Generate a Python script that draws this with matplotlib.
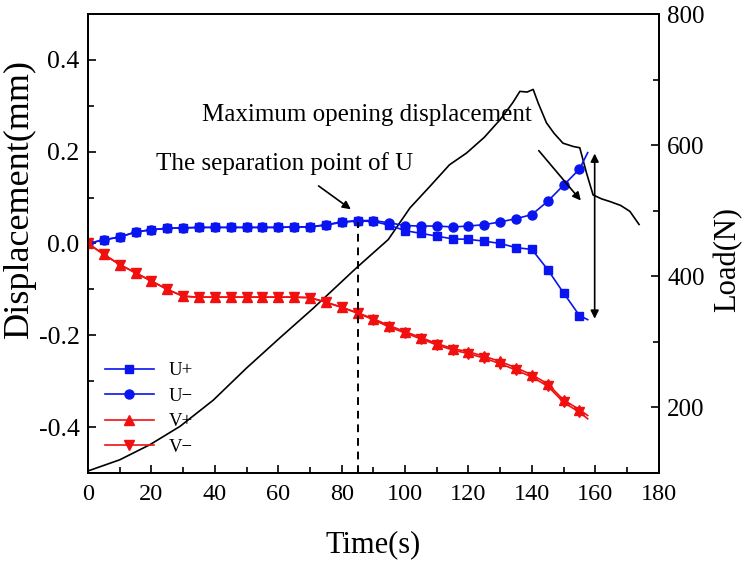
import matplotlib
matplotlib.use("Agg")
import matplotlib.pyplot as plt

plt.rcParams['font.family'] = ['Liberation Serif', 'DejaVu Serif']
plt.rcParams['mathtext.fontset'] = 'stix'

# time (s) for displacement samples
t = [0, 5, 10, 15, 20, 25, 30, 35, 40, 45, 50, 55, 60, 65, 70, 75, 80, 85, 90,
     95, 100, 105, 110, 115, 120, 125, 130, 135, 140, 145, 150, 155]
u_plus = [0.0, 0.008, 0.014, 0.025, 0.030, 0.033, 0.034, 0.035, 0.035, 0.035, 0.035,
          0.035, 0.035, 0.036, 0.036, 0.040, 0.046, 0.049, 0.048,
          0.040, 0.028, 0.022, 0.016, 0.010, 0.009, 0.005, 0.0, -0.009, -0.013,
          -0.057, -0.108, -0.157]
u_minus = [0.0, 0.008, 0.014, 0.025, 0.030, 0.033, 0.034, 0.035, 0.035, 0.035, 0.035,
           0.035, 0.035, 0.036, 0.036, 0.041, 0.047, 0.050, 0.050,
           0.045, 0.039, 0.038, 0.038, 0.036, 0.038, 0.041, 0.047, 0.054, 0.063,
           0.092, 0.127, 0.162]
v_plus = [0.0, -0.024, -0.046, -0.064, -0.082, -0.100, -0.115, -0.117, -0.117, -0.117,
          -0.117, -0.117, -0.117, -0.117, -0.118, -0.128, -0.139, -0.151, -0.164,
          -0.179, -0.192, -0.205, -0.218, -0.229, -0.236, -0.246, -0.257, -0.271,
          -0.286, -0.306, -0.341, -0.362]
v_minus = [0.0, -0.024, -0.046, -0.064, -0.082, -0.100, -0.115, -0.117, -0.117, -0.117,
           -0.117, -0.117, -0.117, -0.117, -0.118, -0.128, -0.139, -0.152, -0.166,
           -0.182, -0.195, -0.208, -0.221, -0.232, -0.240, -0.250, -0.262, -0.276,
           -0.291, -0.311, -0.346, -0.368]
# line tails after last marker
t_end = 157.6
u_plus_end = -0.166
u_minus_end = 0.198
v_plus_end = -0.375
v_minus_end = -0.382

# load curve
t_load = [0, 10, 19.5, 29, 39.5, 50, 60.5, 71, 84.7, 94.7, 101.5, 108, 114, 119.4,
          125, 130, 134, 136.2, 138.5, 140.4, 142, 144.6, 147, 149.8, 153, 155.1,
          157.2, 159.3, 162, 164.6, 168, 170.9, 173.8]
load = [103, 120, 143, 171, 211, 260, 306, 351, 413, 456, 504, 538, 570, 588,
        612, 639, 665, 682, 681, 685, 664, 634, 618, 603, 598, 596, 558, 524, 518,
        514, 508, 499, 479]

fig = plt.figure(figsize=(7.46, 5.61), dpi=100)
ax1 = fig.add_axes([0.118, 0.157, 0.765, 0.818])
ax2 = ax1.twinx()

ax2.plot(t_load, load, color='black', lw=1.2, zorder=1)
ax2.set_ylim(100, 800)
ax2.set_yticks([200, 400, 600, 800])
ax2.set_yticks([300, 500, 700], minor=True)
ax2.set_ylabel('Load(N)', fontsize=22)
ax2.yaxis.set_label_coords(1.095, 0.466)

ax1.set_zorder(ax2.get_zorder() + 1)
ax1.patch.set_visible(False)

blue = '#0a14f0'
red = '#f01010'
ms = 5.5
ax1.plot(t + [t_end], u_plus + [u_plus_end], color=blue, lw=1.2, marker='s', ms=ms,
         markevery=list(range(len(t))), label='U+')
ax1.plot(t + [t_end], u_minus + [u_minus_end], color=blue, lw=1.2, marker='o', ms=ms + 1,
         markevery=list(range(len(t))), label='U\u2212')
ax1.plot(t + [t_end], v_plus + [v_plus_end], color=red, lw=1.2, marker='^', ms=ms + 2,
         markevery=list(range(len(t))), label='V+')
ax1.plot(t + [t_end], v_minus + [v_minus_end], color=red, lw=1.2, marker='v', ms=ms + 2,
         markevery=list(range(len(t))), label='V\u2212')

ax1.set_xlim(0, 180)
ax1.set_ylim(-0.5, 0.5)
ax1.set_xticks(range(0, 181, 20))
ax1.set_xticks(range(10, 180, 20), minor=True)
ax1.set_yticks([-0.4, -0.2, 0.0, 0.2, 0.4])
ax1.set_yticklabels(['-0.4', '-0.2', '0.0', '0.2', '0.4'])
ax1.set_yticks([-0.3, -0.1, 0.1, 0.3], minor=True)
ax1.set_xlabel('Time(s)', fontsize=22)
ax1.xaxis.set_label_coords(0.5, -0.125)
ax1.set_ylabel('Displacement(mm)', fontsize=26)
ax1.yaxis.set_label_coords(-0.092, 0.597)

for ax in (ax1, ax2):
    ax.tick_params(which='both', direction='in', width=1.2)
    ax.tick_params(which='major', length=6)
    ax.tick_params(which='minor', length=4)
    for s in ax.spines.values():
        s.set_linewidth(1.3)
ax1.tick_params(axis='x', labelsize=17.5, pad=8)
ax1.tick_params(axis='y', labelsize=18.5, pad=6)
ax2.tick_params(axis='y', labelsize=18, pad=6)

# dashed separation line
ax1.plot([85.3, 85.3], [-0.5, 0.046], color='black', lw=1.4, ls='--', dashes=(4, 3))

ax1.annotate('', xy=(83.6, 0.071), xytext=(72, 0.129),
             arrowprops=dict(arrowstyle='-|>', color='black', lw=1.2, mutation_scale=12))
ax1.text(62, 0.174, 'The separation point of U', fontsize=18, ha='center', va='center')

ax1.text(87.8, 0.28, 'Maximum opening displacement', fontsize=18, ha='center', va='center')
ax1.annotate('', xy=(156, 0.089), xytext=(141.6, 0.207),
             arrowprops=dict(arrowstyle='-|>', color='black', lw=1.2, mutation_scale=12))
ax1.annotate('', xy=(159.8, 0.202), xytext=(159.8, -0.170),
             arrowprops=dict(arrowstyle='<|-|>', color='black', lw=1.2, mutation_scale=12))

leg = ax1.legend(loc='lower left', bbox_to_anchor=(0.0, 0.0), frameon=False,
                 fontsize=13.5, handlelength=2.6, labelspacing=0.45, handletextpad=0.8)

fig.savefig('out.png', dpi=100)
